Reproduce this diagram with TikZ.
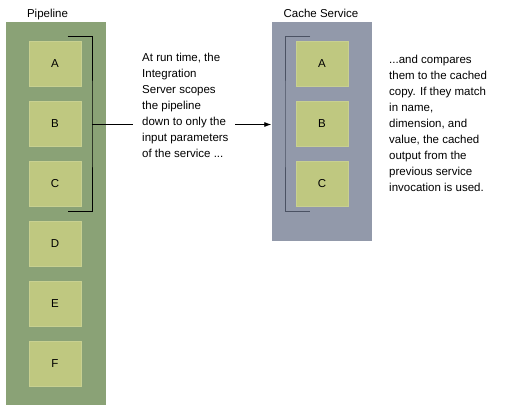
\documentclass[tikz,border=0pt]{standalone}
\usepackage{fontspec}
\setmainfont{Liberation Sans}
\usetikzlibrary{arrows.meta}
\definecolor{pipegreen}{HTML}{8AA276}
\definecolor{boxgreen}{HTML}{BFC880}
\definecolor{boxedge}{HTML}{C8D090}
\definecolor{cachegray}{HTML}{9299AA}
\definecolor{brackgray}{HTML}{4B5263}
\begin{document}
\begin{tikzpicture}[x=1pt,y=-1pt,
  lbl/.style={font=\fontsize{11.5}{16}\selectfont, inner sep=0pt},
  panel/.style={draw=none, minimum width=100pt, inner sep=0pt},
  item/.style={fill=boxgreen, draw=boxedge, line width=0.6pt, minimum width=52pt, minimum height=45pt, inner sep=0pt, font=\fontsize{11.5}{13}\selectfont},
  note/.style={font=\fontsize{11.5}{16}\selectfont, align=left, inner sep=0pt, anchor=north west},
  bline/.style={line width=0.9pt},
]
\useasboundingbox[fill=white] (0,0) rectangle (510,412);
% panels
\node[panel, fill=pipegreen, minimum height=383pt] (pipe) at (55.5,213.5) {};
\node[panel, fill=cachegray, minimum height=219pt] (cache) at (321.5,131.3) {};
% titles
\node[lbl, anchor=base] (pipet) at (47.5,17.3) {Pipeline};
\node[lbl, anchor=base] (cachet) at (321,17.3) {Cache Service};
% pipeline items
\node[item] (pA) at (55,63.5) {A};
\node[item] (pB) at (55,123.5) {B};
\node[item] (pC) at (55,183.5) {C};
\node[item] (pD) at (55,243.5) {D};
\node[item] (pE) at (55,303.5) {E};
\node[item] (pF) at (55,363.5) {F};
% cache items
\node[item] (cA) at (322,63.8) {A};
\node[item] (cB) at (322,123.8) {B};
\node[item] (cC) at (322,183.8) {C};
% bracket on pipeline
\coordinate (bt) at (67.5,36.7);
\coordinate (bm) at (92,124);
\coordinate (bb) at (67.5,211);
\draw[bline, black] (bt) -| (bm) |- (bb);
% bracket on cache
\coordinate (ct) at (310,36.7);
\coordinate (cb) at (310,211.5);
\draw[bline, brackgray] (ct) -| (285,124) |- (cb);
% notes
\node[note] (n1) at (142,53.1) {At run time, the\\Integration\\Server scopes\\the pipeline\\down to only the\\input parameters\\of the service ...};
\node[note] (n2) at (389,55) {...and compares\\them to the cached\\copy. If they match\\in name,\\dimension, and\\value, the cached\\output from the\\previous service\\invocation is used.};
% connectors
\coordinate (lineend) at (133,124);
\draw[line width=0.8pt] (bm) -- (lineend);
\coordinate (arrstart) at (235,124.5);
\draw[line width=0.8pt, -{Latex[length=7pt,width=5pt]}] (arrstart) -- (cache.west |- arrstart);
\end{tikzpicture}
\end{document}
